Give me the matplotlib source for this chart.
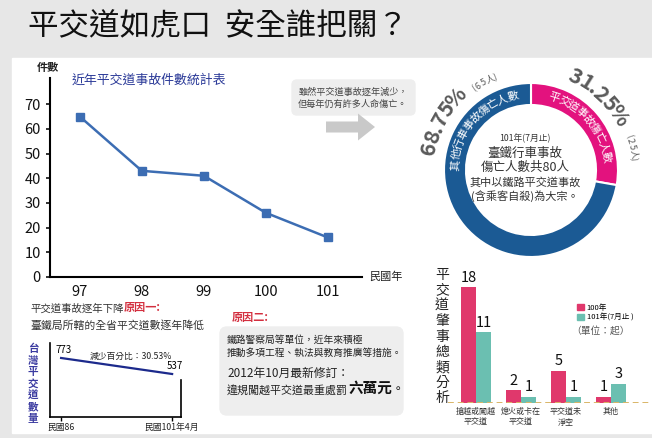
import numpy as np
import matplotlib
matplotlib.use("Agg")
import matplotlib.pyplot as plt
from matplotlib.patches import Rectangle, FancyBboxPatch, FancyArrow, Patch

plt.rcParams['font.family'] = ['Noto Sans CJK TC', 'DejaVu Sans']

# ---- data ----
years = [97, 98, 99, 100, 101]
accidents = [65, 43, 41, 26, 16]
y_ticks = [0, 10, 20, 30, 40, 50, 60, 70]

crossing_pos = [0, 1]
crossing_labels = ['民國86', '民國101年4月']
crossing_counts = [773, 537]

donut_values = [25, 65]            # 平交道, 其他
donut_pcts = ['31.25%', '68.75%']

bar_cats = ['搶越或闖越\n平交道', '熄火或卡在\n平交道', '平交道未\n淨空', '其他']
bar_100 = [18, 2, 5, 1]
bar_101 = [11, 1, 1, 3]

W, H = 652, 438
BLUE = '#1b5a94'
PINK = '#e3127e'
BAR_PINK = '#e0386c'
BAR_TEAL = '#6bbfb1'
GRAY_TXT = '#5a5a5a'


def rect(x0, y0, x1, y1):
    # pixel box (y from top) -> figure fraction
    return [x0 / W, 1 - y1 / H, (x1 - x0) / W, (y1 - y0) / H]


fig = plt.figure(figsize=(W / 100, H / 100), dpi=100)

# background
bg = fig.add_axes([0, 0, 1, 1], zorder=0)
bg.set_xlim(0, W)
bg.set_ylim(H, 0)
bg.axis('off')
bg.add_patch(Rectangle((0, 0), W, H, color='#e7e7e7'))
bg.add_patch(Rectangle((12, 58), W - 12, 375, color='white'))
bg.add_patch(FancyBboxPatch((292, 80), 123, 35, boxstyle='round,pad=0,rounding_size=5',
                            color='#eeeeee'))
bg.add_patch(FancyBboxPatch((220, 327), 183, 88, boxstyle='round,pad=0,rounding_size=7',
                            color='#eeeeee'))

# ---- main line chart ----
ax = fig.add_axes(rect(50, 78, 362, 277), zorder=1)
ax.set_facecolor('none')
ax.plot(years, accidents, color='#3c6db3', lw=1.8, marker='s', ms=5.5)
ax.set_xlim(96.52, 101.55)
ax.set_ylim(0, 80.6)
ax.set_yticks(y_ticks)
ax.set_xticks(years)
ax.tick_params(labelsize=10.5, length=3, width=1.2, colors='#111')
ax.tick_params(axis='x', length=0, pad=6)
for s in ['top', 'right']:
    ax.spines[s].set_visible(False)
for s in ['left', 'bottom']:
    ax.spines[s].set_linewidth(1.5)

# ---- donut ----
cx, cy, R = 531, 170, 110
dax = fig.add_axes(rect(cx - R, cy - R, cx + R, cy + R), zorder=1)
dax.pie(donut_values, colors=[PINK, BLUE], startangle=90, counterclock=False,
        radius=87, wedgeprops=dict(width=22, edgecolor='white', linewidth=1.5))
dax.set_xlim(-R, R)
dax.set_ylim(-R, R)
dax.axis('off')


def arc_text(s, r, a0, a1, widths=None, **kw):
    if widths is None:
        widths = [1.0] * len(s)
    w = np.array(widths, dtype=float)
    c = np.cumsum(w) - w / 2
    c = (c - c[0]) / (c[-1] - c[0])
    for ch, f in zip(s, c):
        a = a0 + (a1 - a0) * f
        t = np.deg2rad(a)
        dax.text(r * np.cos(t), r * np.sin(t), ch, rotation=a - 90,
                 ha='center', va='center', rotation_mode='anchor', **kw)


def pct_w(s):
    return [0.45 if ch == '.' else 1.3 if ch == '%' else 1.0 for ch in s]


arc_text('其他行車事故傷亡人數', 76, 176, 104, color='white', fontsize=8)
arc_text('平交道事故傷亡人數', 76, 72, 10, color='white', fontsize=8)
arc_text(donut_pcts[1], 104, 168, 136, widths=pct_w(donut_pcts[1]),
         color=GRAY_TXT, fontsize=15.5, fontweight='heavy')
arc_text(donut_pcts[0], 103, 65, 32, widths=pct_w(donut_pcts[0]),
         color=GRAY_TXT, fontsize=15.5, fontweight='heavy')
arc_text('(65人)', 99, 125, 111, widths=[0.5, 1, 1, 1.3, 0.5], color=GRAY_TXT, fontsize=6.5)
arc_text('(25人)', 103, 19, 6, widths=[0.5, 1, 1, 1.3, 0.5], color=GRAY_TXT, fontsize=6.5)

# ---- small crossing-count chart ----
sax = fig.add_axes(rect(50, 343, 181, 417), zorder=1)
sax.set_facecolor('none')
sax.plot(crossing_pos, crossing_counts, color='#1c2a8c', lw=1.6)
sax.set_xlim(-0.1, 1.08)
sax.set_ylim(-97, 994)
sax.set_xticks(crossing_pos)
sax.set_xticklabels(crossing_labels, fontsize=6.3, color='#222')
sax.set_yticks([])
sax.tick_params(axis='x', length=3, width=1, pad=1)
sax.spines['top'].set_visible(False)
sax.spines['right'].set_bounds(-97, 449)
for s in ['left', 'bottom', 'right']:
    sax.spines[s].set_linewidth(1.2)
sax.text(crossing_pos[0] - 0.05, crossing_counts[0] + 40, str(crossing_counts[0]),
         fontsize=7, va='bottom', ha='left')
sax.text(crossing_pos[1] - 0.05, crossing_counts[1] + 40, str(crossing_counts[1]),
         fontsize=7, va='bottom', ha='left')

# ---- bar chart ----
bax = fig.add_axes(rect(448, 265, 650, 403), zorder=1)
bax.set_facecolor('none')
x = np.arange(len(bar_cats))
bw = 0.333
b1 = bax.bar(x - bw / 2, bar_100, bw, color=BAR_PINK, label='100年')
b2 = bax.bar(x + bw / 2, bar_101, bw, color=BAR_TEAL, label='101年(7月止 )')
for bars, vals in [(b1, bar_100), (b2, bar_101)]:
    for b, v in zip(bars, vals):
        bax.text(b.get_x() + b.get_width() / 2, v + 0.4, str(v), ha='center',
                 va='bottom', fontsize=10.5, color='#111')
bax.axhline(0, color='#d9b567', lw=1.4, ls=(0, (3, 2)))
bax.set_xlim(-0.62, 3.87)
bax.set_ylim(0, 21.5)
bax.set_xticks(x)
bax.set_xticklabels(bar_cats, fontsize=5.8, color='#333', linespacing=1.3)
bax.set_yticks([])
bax.tick_params(axis='x', length=0, pad=3)
for s in bax.spines.values():
    s.set_visible(False)
bax.legend(handles=[Patch(color=BAR_PINK), Patch(color=BAR_TEAL)],
           labels=['100年', '101年(7月止 )'], loc='upper left',
           bbox_to_anchor=(573 / W, 1 - 300 / H), bbox_transform=fig.transFigure,
           frameon=False, fontsize=5.5, handlelength=0.9, handleheight=0.9,
           handletextpad=0.4, labelspacing=0.2, borderpad=0)

# ---- overlay text ----
fg = fig.add_axes([0, 0, 1, 1], zorder=10)
fg.set_xlim(0, W)
fg.set_ylim(H, 0)
fg.axis('off')

fg.text(28, 27, '平交道如虎口  安全誰把關？', fontsize=22, va='center', ha='left', color='#111')

fg.text(37, 68, '件數', fontsize=8, fontweight='bold', va='center', color='#222')
fg.text(72, 80, '近年平交道事故件數統計表', fontsize=9.3, va='center', color='#2b3a98')
fg.text(369, 277, '民國年', fontsize=8, va='center', color='#222')

fg.text(353, 92, '雖然平交道事故逐年減少，', fontsize=6.6, ha='center', va='center', color='#444')
fg.text(353, 104, '但每年仍有許多人命傷亡。', fontsize=6.6, ha='center', va='center', color='#444')
fg.add_patch(FancyArrow(326, 127, 32, 0, width=11, head_width=27, head_length=17,
                        color='#c9c9c9', lw=0))

fg.text(525, 138, '101年(7月止)', fontsize=6.3, ha='center', va='center', color='#333')
fg.text(525, 153, '臺鐵行車事故', fontsize=9, ha='center', va='center', color='#333')
fg.text(525, 167, '傷亡人數共80人', fontsize=9, ha='center', va='center', color='#333')
fg.text(525, 182, '其中以鐵路平交道事故', fontsize=8, ha='center', va='center', color='#333')
fg.text(525, 196, '(含乘客自殺)為大宗。', fontsize=8, ha='center', va='center', color='#333')

t = fg.text(30, 312, '平交道事故逐年下降', fontsize=7.5, va='baseline', color='#333')
fg.annotate('原因一:', xy=(1, 0), xycoords=t, va='bottom', fontsize=8,
            fontweight='bold', color='#d32f3f')
fg.text(30, 329, '臺鐵局所轄的全省平交道數逐年降低', fontsize=7.8, va='baseline', color='#333')
fg.text(90, 356, '減少百分比：30.53%', fontsize=6.3, va='center', color='#222')
for i, ch in enumerate('台灣平交道數量'):
    fg.text(33, 349 + i * 11.6, ch, fontsize=7.6, fontweight='bold', ha='center',
            va='center', color='#3a3aa0')

fg.text(232, 317, '原因二:', fontsize=8, va='center', color='#d32f3f', fontweight='bold')
fg.text(227, 340, '鐵路警察局等單位，近年來積極', fontsize=7, va='center', color='#222')
fg.text(227, 353, '推動多項工程、執法與教育推廣等措施。', fontsize=7, va='center', color='#222')
fg.text(227, 373, '2012年10月最新修訂：', fontsize=8.5, va='center', color='#222')
t2 = fg.text(227, 394, '違規闖越平交道最重處罰', fontsize=7.9, va='baseline', color='#222')
t3 = fg.annotate('六萬元', xy=(1, 0), xycoords=t2, va='bottom', fontsize=10.5,
                 fontweight='bold', color='#111')
fg.annotate('。', xy=(1, 0), xycoords=t3, va='bottom', fontsize=9, color='#111')

for i, ch in enumerate('平交道肇事總類分析'):
    fg.text(442, 275 + i * 15.4, ch, fontsize=10, ha='center', va='center', color='#222')
fg.text(601, 331, '（單位：起）', fontsize=7, ha='center', va='center', color='#555')

fig.savefig('out.png', dpi=100)
